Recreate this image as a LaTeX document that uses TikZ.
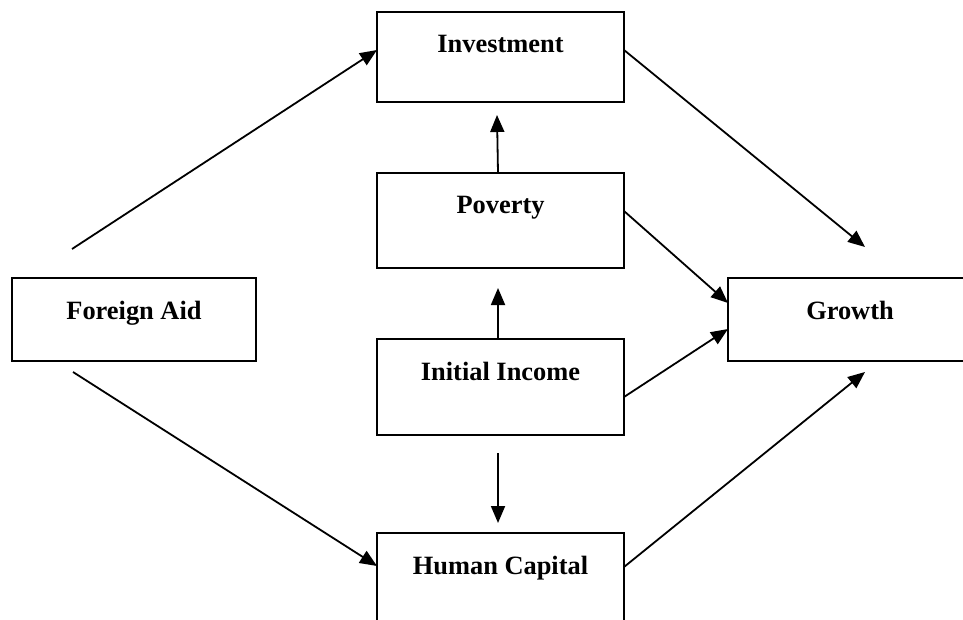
\documentclass[tikz,border=0pt]{standalone}
\usepackage{fontspec}
\setmainfont{Liberation Serif}
\usetikzlibrary{arrows.meta}
\begin{document}
\begin{tikzpicture}[x=1pt,y=-1pt,
  box/.style={draw, line width=2pt, inner sep=0pt, outer sep=0pt, text height=41pt,
    anchor=north west, font=\fontsize{26.4}{30}\selectfont\bfseries},
  arr/.style={-{Triangle[length=17pt,width=14pt]}, line width=1.8pt}]
\useasboundingbox (0,0) rectangle (963,620);
\clip (0,0) rectangle (963,620);
\node[box, minimum width=247pt, text depth=49pt] (inv) at (377,12) {Investment};
\node[box, minimum width=247pt, text depth=54pt] (pov) at (377,173) {Poverty};
\node[box, minimum width=247pt, text depth=55pt] (ii) at (377,339) {Initial Income};
\node[box, minimum width=247pt, text depth=54pt] (hc) at (377,533) {Human Capital};
\node[box, minimum width=244pt, text depth=42pt] (fa) at (12,278) {Foreign Aid};
\node[box, minimum width=244pt, text depth=42pt] (gr) at (728,278) {Growth};
\coordinate (faup) at (72,249);
\coordinate (fadn) at (73,372);
\coordinate (gtop) at (865,247);
\coordinate (gbot) at (865,372);
\coordinate (povin) at (498,288);
\coordinate (invin) at (497,115);
\coordinate (hcin) at (498,523);
\coordinate (iiout) at (498,453);
\draw[arr] (faup) -- ([yshift=7pt]inv.west);
\draw[arr] (fadn) -- ([yshift=14.5pt]hc.west);
\draw[arr] ([yshift=7pt]inv.east) -- (gtop);
\draw[arr] ([yshift=9.5pt]pov.east) -- ([yshift=16.5pt]gr.west);
\draw[arr] ([yshift=-10pt]ii.east) -- ([yshift=-9.5pt]gr.west);
\draw[arr] ([yshift=13.5pt]hc.east) -- (gbot);
\draw[arr] ([xshift=-2.5pt]ii.north) -- (povin);
\draw[arr] ([xshift=-2.5pt]pov.north) -- (invin);
\draw[arr] (iiout) -- (hcin);
\end{tikzpicture}
\end{document}
